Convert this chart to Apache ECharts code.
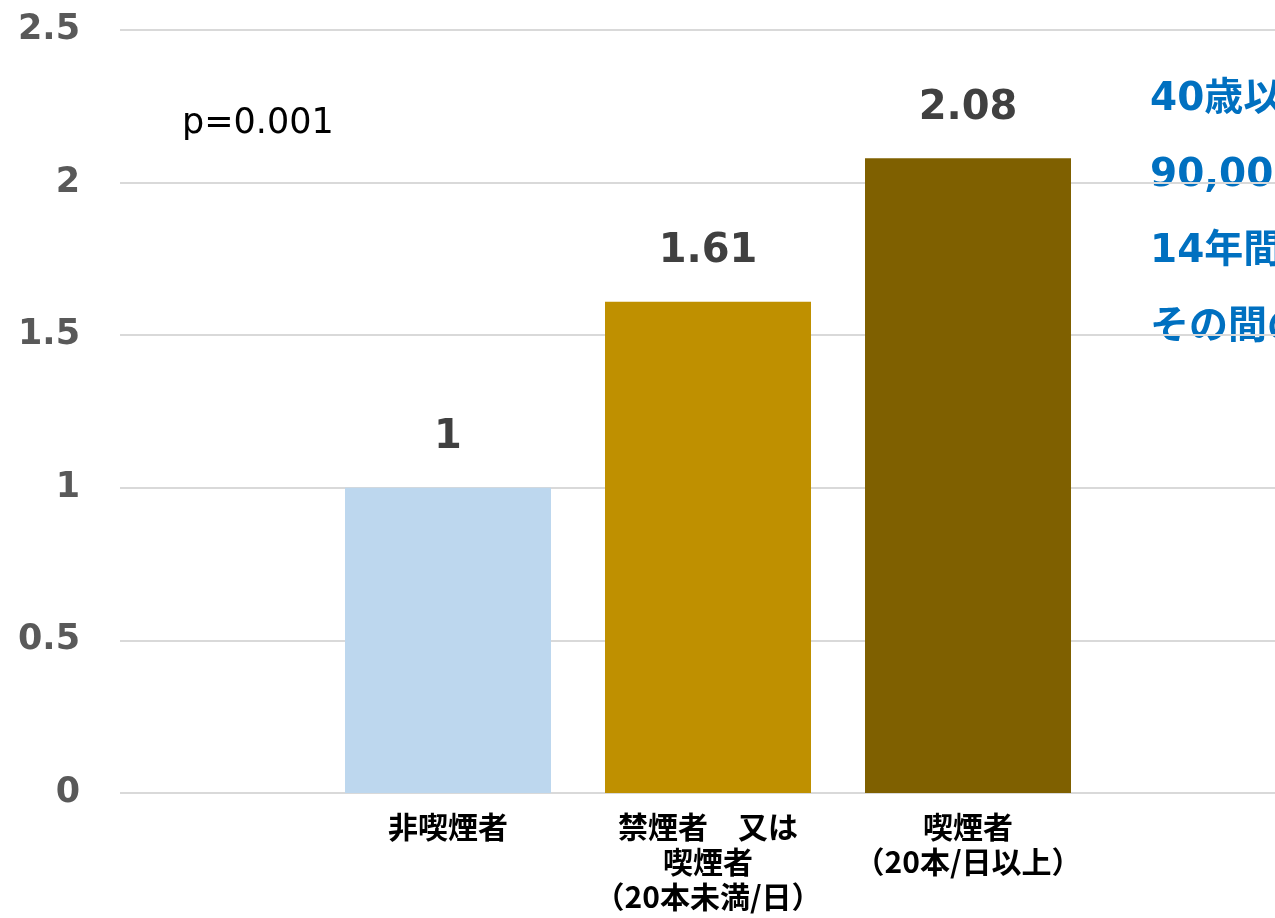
<!DOCTYPE html>
<html>
<head>
<meta charset="utf-8">
<script src="https://cdn.jsdelivr.net/npm/echarts@6/dist/echarts.min.js"></script>
<style>
  html, body { margin: 0; padding: 0; background: #fff; }
  #main { width: 1275px; height: 918px; }
</style>
</head>
<body>
<div id="main"></div>
<script>
// データ
var categories = ['非喫煙者', '禁煙者　又は\n喫煙者\n（20本未満/日）', '喫煙者\n（20本/日以上）'];
var values = [1, 1.61, 2.08];
var barColors = ['#BDD7EE', '#BF9000', '#7F6000'];
var noteLines = ['40歳以上の男女', '90,000人を', '14年間追跡', 'その間の死亡'];
var pText = 'p=0.001';

var numFont = '"DejaVu Sans", Verdana, sans-serif';
var jpFont = '"Noto Sans CJK JP", sans-serif';

var chart = echarts.init(document.getElementById('main'));

var barData = [];
for (var i = 0; i < values.length; i++) {
	barData.push({ value: values[i], itemStyle: { color: barColors[i] } });
}

var graphics = [{
	type: 'text',
	left: 182,
	top: 106,
	style: { text: pText, fontSize: 35, fontFamily: numFont, fill: '#000' }
}];
for (var j = 0; j < noteLines.length; j++) {
	graphics.push({
		type: 'text',
		left: 1150,
		top: 80 + j * 76,
		style: { text: noteLines[j], fontSize: 39, fontWeight: 'bold', fontFamily: numFont + ',' + jpFont, fill: '#0070C0' }
	});
}

var option = {
	animation: false,
	grid: [
		{ left: 120, right: 0, top: 30, bottom: 125 },
		{ left: 318, width: 780, top: 30, bottom: 125 }
	],
	xAxis: [
		{ gridIndex: 0, type: 'category', data: [''], show: false },
		{
			gridIndex: 1, type: 'category', data: categories,
			axisLine: { show: false }, axisTick: { show: false },
			axisLabel: {
				interval: 0, margin: 16, color: '#000', fontSize: 30, fontWeight: 'bold',
				fontFamily: jpFont, lineHeight: 35
			}
		}
	],
	yAxis: [
		{
			gridIndex: 0, type: 'value', min: 0, max: 2.5, interval: 0.5,
			axisLine: { show: false }, axisTick: { show: false },
			splitLine: { lineStyle: { color: '#D9D9D9', width: 2 } },
			axisLabel: { margin: 40, color: '#595959', fontSize: 35, fontWeight: 'bold', fontFamily: numFont }
		},
		{
			gridIndex: 1, type: 'value', min: 0, max: 2.5, interval: 0.5, show: false,
			splitLine: { show: false }
		}
	],
	series: [{
		type: 'bar',
		xAxisIndex: 1,
		yAxisIndex: 1,
		barWidth: 206,
		data: barData,
		label: {
			show: true, position: 'top', distance: 30,
			color: '#404040', fontSize: 40, fontWeight: 'bold', fontFamily: numFont
		}
	}],
	graphic: graphics
};
chart.setOption(option);
</script>
</body>
</html>
